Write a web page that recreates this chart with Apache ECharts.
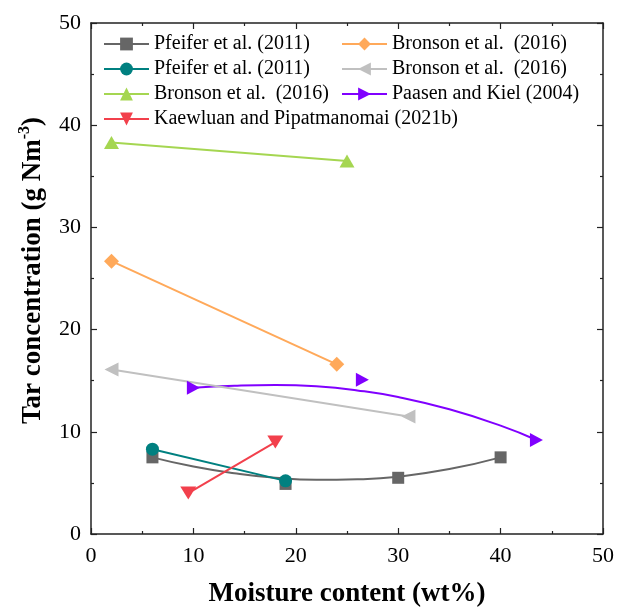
<!DOCTYPE html>
<html>
<head>
<meta charset="utf-8">
<script src="https://cdn.jsdelivr.net/npm/echarts@6/dist/echarts.min.js"></script>
<style>
  html, body { margin: 0; padding: 0; background: #fff; }
  #chart { width: 617px; height: 610px; }
</style>
</head>
<body>
<div id="chart"></div>
<script>
// Measured points [moisture wt%, tar g/Nm3]
const pfeiferA = [[6, 7.5], [19, 4.9], [30, 5.5], [40, 7.5]];
const pfeiferAFit = [[6, 7.5], [10, 6.6], [14, 5.95], [18, 5.5], [22, 5.3], [26, 5.35], [30, 5.6], [35, 6.35], [40, 7.5]];
const pfeiferB = [[6, 8.3], [19, 5.2]];
const bronsonA = [[2, 38.3], [25, 36.5]];
const kaewluan = [[9.5, 4.0], [18, 9.0]];
const bronsonB = [[2, 26.7], [24, 16.6]];
const bronsonC = [[2, 16.1], [31, 11.5]];
const paasen = [[10, 14.3], [26.5, 15.1], [43.5, 9.2]];
const paasenFit = [[10, 14.3], [14, 14.5], [18, 14.58], [22, 14.45], [26, 14.05], [30, 13.4], [35, 12.2], [40, 10.6], [43.5, 9.2]];

const xTicks = [0, 10, 20, 30, 40, 50];
const yTicks = [0, 10, 20, 30, 40, 50];

const names = {
  pfA: 'Pfeifer et al. (2011)',
  pfB: 'Pfeifer et al. (2011) ',
  brA: 'Bronson et al.  (2016)',
  kae: 'Kaewluan and Pipatmanomai (2021b)',
  brB: 'Bronson et al.  (2016) ',
  brC: 'Bronson et al.  (2016)  ',
  paa: 'Paasen and Kiel (2004)'
};

const colors = {
  pfA: '#666666', pfB: '#008080', brA: '#a5d651', kae: '#f2404c',
  brB: '#ffa95a', brC: '#c0c0c0', paa: '#8000ff'
};

const serif = 'Liberation Serif, Times New Roman, serif';

function pointSeries(key, data, symbol, size, rotate, hideLine) {
  return {
    name: names[key],
    type: 'line',
    data: data,
    symbol: symbol,
    symbolSize: size,
    symbolRotate: rotate,
    showSymbol: true,
    z: 3,
    itemStyle: { color: colors[key], opacity: 1 },
    lineStyle: { color: colors[key], width: 2, opacity: hideLine ? 0 : 1 },
    emphasis: { disabled: true },
    animation: false
  };
}

function fitSeries(key, data) {
  return {
    type: 'line',
    data: data,
    smooth: 0.5,
    symbol: 'none',
    z: 2,
    lineStyle: { color: colors[key], width: 2 },
    emphasis: { disabled: true },
    animation: false
  };
}

function legendItem(key) {
  return { name: names[key], lineStyle: { color: colors[key], width: 2, opacity: 1 } };
}

const legendText = { fontFamily: serif, fontSize: 20, lineHeight: 16, color: '#000' };

const axisCommon = {
  type: 'value',
  min: 0,
  max: 50,
  interval: 10,
  axisLine: { show: true, onZero: false, lineStyle: { color: '#222', width: 1.5 } },
  axisTick: { show: true, inside: true, length: 6, lineStyle: { color: '#222', width: 1.2 } },
  minorTick: { show: true, splitNumber: 2, length: 3, lineStyle: { color: '#222', width: 1.2 } },
  splitLine: { show: false }
};

const chart = echarts.init(document.getElementById('chart'), null, { renderer: 'canvas' });

chart.setOption({
  backgroundColor: '#fff',
  animation: false,
  grid: { left: 91, right: 14, top: 23, bottom: 76, containLabel: false, outerBoundsMode: 'none' },
  legend: [
    {
      orient: 'vertical', left: 103, top: 34, padding: 0,
      itemWidth: 45, itemHeight: 16, itemGap: 5,
      textStyle: legendText,
      data: [legendItem('pfA'), legendItem('pfB'), legendItem('brA'), legendItem('kae')],
      selectedMode: false
    },
    {
      orient: 'vertical', left: 341, top: 34, padding: 0,
      itemWidth: 45, itemHeight: 16, itemGap: 5,
      textStyle: legendText,
      data: [legendItem('brB'), legendItem('brC'), legendItem('paa')],
      selectedMode: false
    }
  ],
  xAxis: [
    Object.assign({}, axisCommon, {
      position: 'bottom',
      name: 'Moisture content (wt%)',
      nameLocation: 'middle',
      nameGap: 47,
      nameTextStyle: { fontFamily: serif, fontSize: 27, fontWeight: 'bold', color: '#000' },
      axisLabel: {
        fontFamily: serif, fontSize: 22, color: '#000', margin: 11,
        formatter: v => (xTicks.indexOf(v) >= 0 ? String(v) : '')
      }
    }),
    Object.assign({}, axisCommon, { position: 'top', axisLabel: { show: false } })
  ],
  yAxis: [
    Object.assign({}, axisCommon, {
      position: 'left',
      name: '{a|Tar concentration (g Nm}{s|-3}{a|)}',
      nameLocation: 'middle',
      nameGap: 42,
      nameRotate: 90,
      nameTextStyle: {
        padding: [0, 0, 0, 16],
        rich: {
          a: { fontFamily: serif, fontSize: 27, fontWeight: 'bold', color: '#000', lineHeight: 32 },
          s: { fontFamily: serif, fontSize: 16, fontWeight: 'bold', color: '#000', verticalAlign: 'top', lineHeight: 16 }
        }
      },
      axisLabel: {
        fontFamily: serif, fontSize: 22, color: '#000', margin: 10,
        formatter: v => (yTicks.indexOf(v) >= 0 ? String(v) : '')
      }
    }),
    Object.assign({}, axisCommon, { position: 'right', axisLabel: { show: false } })
  ],
  series: [
    fitSeries('pfA', pfeiferAFit),
    pointSeries('pfA', pfeiferA, 'rect', 12, 0, true),
    pointSeries('pfB', pfeiferB, 'circle', 13, 0, false),
    pointSeries('brA', bronsonA, 'triangle', [15, 13], 0, false),
    pointSeries('kae', kaewluan, 'triangle', [16, 13], 180, false),
    pointSeries('brB', bronsonB, 'diamond', [15, 15], 0, false),
    pointSeries('brC', bronsonC, 'triangle', [14, 14], 90, false),
    fitSeries('paa', paasenFit),
    pointSeries('paa', paasen, 'triangle', [14, 13], -90, true)
  ]
});
</script>
</body>
</html>
